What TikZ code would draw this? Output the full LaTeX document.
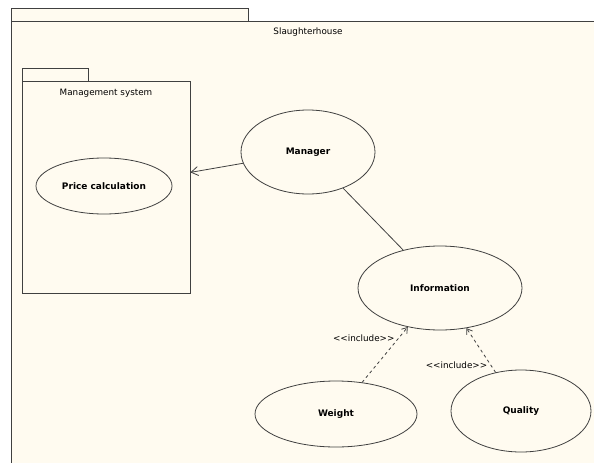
\documentclass[tikz,border=0pt]{standalone}
\usepackage{fontspec}
\setmainfont{DejaVu Sans}
\usepackage{xcolor}
\usetikzlibrary{shapes.geometric,arrows.meta}
\definecolor{pkgfill}{RGB}{255,251,240}
\definecolor{umlline}{RGB}{64,64,64}

\begin{document}
\begin{tikzpicture}[x=1pt,y=-1pt,line width=0.8pt,
    usecase/.style={draw=umlline, ellipse, fill=pkgfill, inner sep=0pt, font=\fontsize{9}{10}\selectfont\bfseries},
    pkgtitle/.style={font=\fontsize{8.8}{10}\selectfont},
    include/.style={draw=umlline, dash pattern=on 3pt off 3pt, -{Straight Barb[length=5pt,width=7pt]}}]
      \useasboundingbox (0,0) rectangle (594,463);
      % \draw[help lines, gray!50, very thin] (0,0) grid[step=50] (594,463);

      % Slaughterhouse package
      \draw[draw=umlline, fill=pkgfill] (11,8) rectangle (248,21);
      \fill[pkgfill] (11,21) rectangle (594,463);
      \draw[umlline] (594,21) -- (11,21) -- (11,463);
      \node[pkgtitle] (house) at (308,32) {Slaughterhouse};

      % Management system package
      \draw[draw=umlline, fill=pkgfill] (22,68) rectangle (88,81);
      \node[draw=umlline, fill=pkgfill, minimum width=168pt, minimum height=212pt, inner sep=0pt] (mgmt) at (106,187) {};
      \node[pkgtitle] (mgmttitle) at (106,93) {Management system};

      \node[usecase, minimum width=136pt, minimum height=56pt] (price) at (104,186) {Price calculation};
      \node[usecase, minimum width=134pt, minimum height=84pt] (manager) at (308,152) {Manager};
      \node[usecase, minimum width=164pt, minimum height=84pt] (info) at (440,288) {Information};
      \node[usecase, minimum width=162pt, minimum height=66pt] (weight) at (336,414) {Weight};
      \node[usecase, minimum width=140pt, minimum height=82pt] (quality) at (521,411) {Quality};

      \draw[umlline, -{Straight Barb[length=7pt,width=9pt]}] (manager) -- (mgmt);
      \draw[umlline] (manager) -- (info);
      \draw[include] (weight) -- node[pos=0.79, left, pkgtitle] (inclweight) {<{}<include>{}>} (info);
      \draw[include] (quality) -- node[pos=0.16, left, pkgtitle] (inclquality) {<{}<include>{}>} (info);
    \end{tikzpicture}
\end{document}
